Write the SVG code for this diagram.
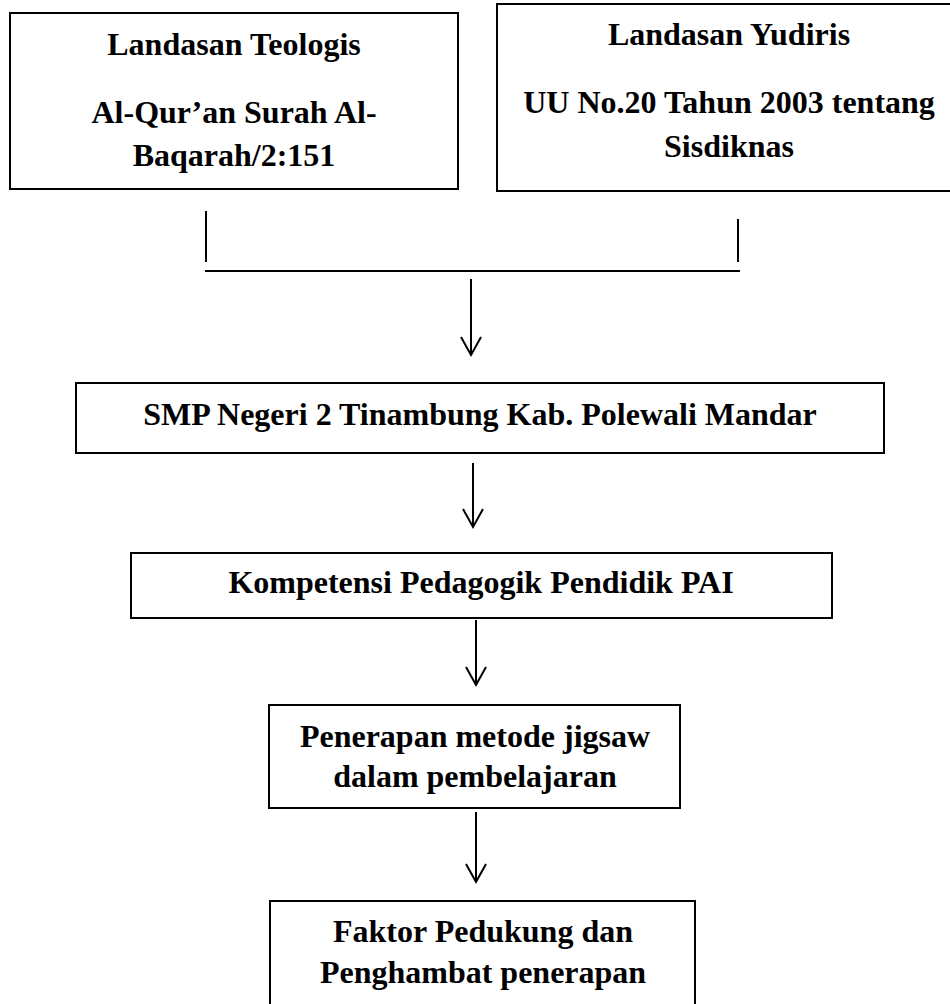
<svg xmlns="http://www.w3.org/2000/svg" width="950" height="1004" viewBox="0 0 950 1004">
<defs>
<style>
.box{fill:#fff;stroke:#000;stroke-width:2}
.t{font-family:"Liberation Serif","Times New Roman",Tinos,serif;font-weight:bold;font-size:32px;text-anchor:middle;fill:#000}
.c{fill:none;stroke:#000;stroke-width:2}
</style>
<marker id="ah" markerUnits="userSpaceOnUse" markerWidth="24" markerHeight="24" viewBox="-20 -12 24 24" refX="0" refY="0" orient="auto">
<polyline points="-18,-10 0,0 -18,10" fill="none" stroke="#000" stroke-width="2"/>
</marker>
</defs>
<rect width="950" height="1004" fill="#fff"/>
<g id="connectors">
<line class="c" x1="206" y1="211" x2="206" y2="262"/>
<line class="c" x1="738" y1="219" x2="738" y2="262"/>
<line class="c" x1="205" y1="271" x2="740" y2="271"/>
<line class="c" x1="471" y1="279" x2="471" y2="355" marker-end="url(#ah)"/>
<line class="c" x1="473" y1="463" x2="473" y2="527" marker-end="url(#ah)"/>
<line class="c" x1="476" y1="620" x2="476" y2="685" marker-end="url(#ah)"/>
<line class="c" x1="476" y1="812" x2="476" y2="882" marker-end="url(#ah)"/>
</g>
<g id="teologis">
<rect class="box" x="10" y="13" width="448" height="176"/>
<text class="t" x="234" y="55">Landasan Teologis</text>
<text class="t" x="234" y="123">Al-Qur’an Surah Al-</text>
<text class="t" x="234" y="166">Baqarah/2:151</text>
</g>
<g id="yudiris">
<rect class="box" x="497" y="4" width="464" height="187"/>
<text class="t" x="729" y="45">Landasan Yudiris</text>
<text class="t" x="729" y="113">UU No.20 Tahun 2003 tentang</text>
<text class="t" x="729" y="157">Sisdiknas</text>
</g>
<g id="smp">
<rect class="box" x="76" y="383" width="808" height="70"/>
<text class="t" x="480" y="425">SMP Negeri 2 Tinambung Kab. Polewali Mandar</text>
</g>
<g id="kompetensi">
<rect class="box" x="131" y="553" width="701" height="65"/>
<text class="t" x="481" y="593">Kompetensi Pedagogik Pendidik PAI</text>
</g>
<g id="penerapan">
<rect class="box" x="269" y="705" width="411" height="103"/>
<text class="t" x="475" y="747">Penerapan metode jigsaw</text>
<text class="t" x="475" y="787">dalam pembelajaran</text>
</g>
<g id="faktor">
<rect class="box" x="270" y="901" width="425" height="120"/>
<text class="t" x="483" y="942">Faktor Pedukung dan</text>
<text class="t" x="483" y="983">Penghambat penerapan</text>
</g>
</svg>
